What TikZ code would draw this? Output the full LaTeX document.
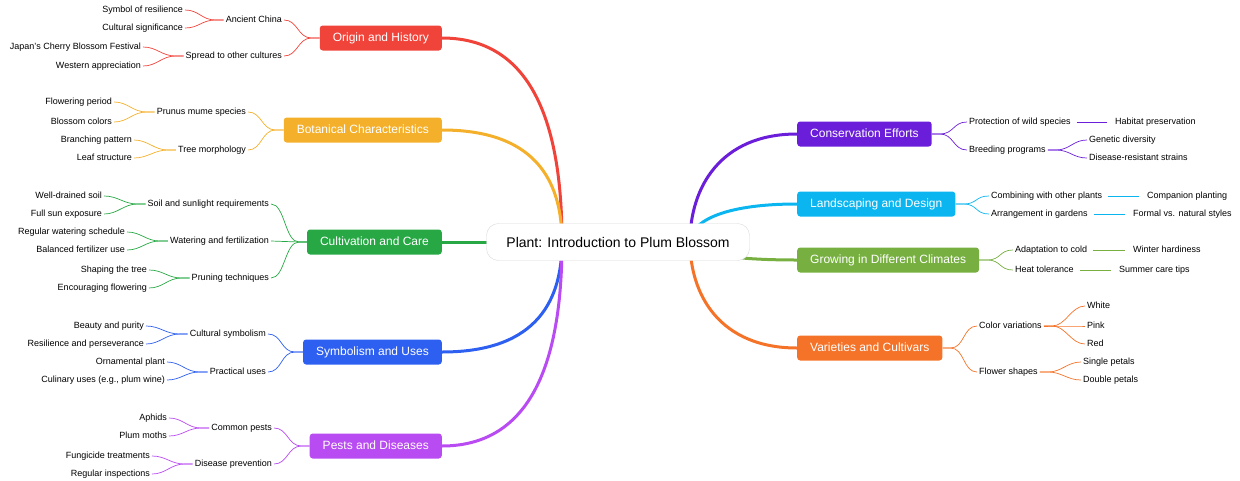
\documentclass[tikz,border=0pt]{standalone}
\usepackage{fontspec}
\setmainfont{Liberation Sans}
\usetikzlibrary{backgrounds}
\definecolor{cRed}{HTML}{F0433A}
\definecolor{cOrg}{HTML}{F4B02A}
\definecolor{cGrn}{HTML}{27A845}
\definecolor{cBlu}{HTML}{2D5FF0}
\definecolor{cPur}{HTML}{B94BF2}
\definecolor{cVio}{HTML}{6A1ED9}
\definecolor{cCya}{HTML}{0BB5F0}
\definecolor{cOli}{HTML}{77B041}
\definecolor{cVar}{HTML}{F57328}
\begin{document}
\begin{tikzpicture}
[x=1pt,y=-1pt,
  mainnode/.style={rounded corners=3pt,minimum height=25pt,inner xsep=13pt,text=white,text height=9pt,text depth=2.5pt,font=\fontsize{12}{14}\selectfont},
  subnode/.style={inner sep=2pt,text height=6.5pt,text depth=1.5pt,font=\fontsize{9}{11}\selectfont},
  thickline/.style={line width=3pt},
  thinline/.style={line width=0.7pt}]
\useasboundingbox (0,0) rectangle (1240,480);
%% center
\node (root) at (618,242) [draw=black!15,fill=white,rounded corners=12pt,minimum width=263pt,minimum height=37pt,font=\fontsize{14}{16}\selectfont] {Plant: Introduction to Plum Blossom};
%% left main nodes
\foreach \name/\y/\col/\txt in {orig/38/cRed/Origin and History, bota/130/cOrg/Botanical Characteristics,
  cult/242/cGrn/Cultivation and Care, symb/352/cBlu/Symbolism and Uses, pest/446/cPur/Pests and Diseases}
{
  \node (\name) at (442,\y) [mainnode,anchor=east,fill=\col] {\txt};
  \begin{pgfonlayer}{background}
  \draw[thickline,\col] (\name.east) .. controls (540,\y) and (562,{(\y+242)/2}) .. (562,242);
  \end{pgfonlayer}
}
%% right main nodes
\foreach \name/\y/\col/\txt in {cons/134/cVio/Conservation Efforts, land/204/cCya/Landscaping and Design,
  grow/260/cOli/Growing in Different Climates, vari/348/cVar/Varieties and Cultivars}
{
  \node (\name) at (797,\y) [mainnode,anchor=west,fill=\col] {\txt};
  \begin{pgfonlayer}{background}
  \draw[thickline,\col] (\name.west) .. controls (720,\y) and (690,{(\y+242)/2}) .. (690,242);
  \end{pgfonlayer}
}
%% left subnodes
\foreach \name/\x/\y/\up/\col/\txt in {o1/284/20/orig/cRed/Ancient China, o2/284/56/orig/cRed/Spread to other cultures,
  o11/185/10/o1/cRed/Symbol of resilience, o12/185/28/o1/cRed/Cultural significance,
  o21/143/47/o2/cRed/Japan's Cherry Blossom Festival, o22/143/66/o2/cRed/Western appreciation,
  b1/248/112/bota/cOrg/Prunus mume species, b2/248/150/bota/cOrg/Tree morphology,
  b11/114/102/b1/cOrg/Flowering period, b12/114/122/b1/cOrg/Blossom colors,
  b21/134/140/b2/cOrg/Branching pattern, b22/134/158/b2/cOrg/Leaf structure,
  c1/271/204/cult/cGrn/Soil and sunlight requirements, c2/271/241/cult/cGrn/Watering and fertilization,
  c3/271/278/cult/cGrn/Pruning techniques,
  c11/104/196/c1/cGrn/Well-drained soil, c12/104/214/c1/cGrn/Full sun exposure,
  c21/127/232/c2/cGrn/Regular watering schedule, c22/127/250/c2/cGrn/Balanced fertilizer use,
  c31/149/270/c3/cGrn/Shaping the tree, c32/149/288/c3/cGrn/Encouraging flowering,
  s1/268/334/symb/cBlu/Cultural symbolism, s2/268/372/symb/cBlu/Practical uses,
  s11/146/326/s1/cBlu/Beauty and purity, s12/146/344/s1/cBlu/Resilience and perseverance,
  s21/167/362/s2/cBlu/Ornamental plant, s22/167/380/s2/cBlu/{Culinary uses (e.g., plum wine)},
  p1/274/428/pest/cPur/Common pests, p2/274/464/pest/cPur/Disease prevention,
  p11/169/418/p1/cPur/Aphids, p12/169/436/p1/cPur/Plum moths,
  p21/152/456/p2/cPur/Fungicide treatments, p22/152/474/p2/cPur/Regular inspections}
{
  \node (\name) at (\x,\y) [subnode,anchor=east] {\txt};
  \draw[thinline,\col] (\up.west) -- ++(-8,0) .. controls +(-14,0) and +(14,0) .. (\name.east);
}
%% right subnodes
\foreach \name/\x/\y/\up/\col/\txt in {k1/967/122/cons/cVio/Protection of wild species, k2/967/150/cons/cVio/Breeding programs,
  k21/1087/140/k2/cVio/Genetic diversity, k22/1087/158/k2/cVio/Disease-resistant strains,
  l1/989/196/land/cCya/Combining with other plants, l2/989/214/land/cCya/Arrangement in gardens,
  g1/1013/250/grow/cOli/Adaptation to cold, g2/1013/270/grow/cOli/Heat tolerance,
  v1/977/326/vari/cVar/Color variations, v2/977/372/vari/cVar/Flower shapes,
  v11/1085/306/v1/cVar/White, v12/1085/326/v1/cVar/Pink, v13/1085/344/v1/cVar/Red,
  v21/1081/362/v2/cVar/Single petals, v22/1081/380/v2/cVar/Double petals}
{
  \node (\name) at (\x,\y) [subnode,anchor=west] {\txt};
  \draw[thinline,\col] (\up.east) -- ++(8,0) .. controls +(14,0) and +(-14,0) .. (\name.west);
}
%% single leaves
\foreach \name/\x/\y/\up/\col/\txt in {k11/1113/122/k1/cVio/Habitat preservation,
  l11/1145/196/l1/cCya/Companion planting, l21/1131/214/l2/cCya/Formal vs. natural styles,
  g11/1131/250/g1/cOli/Winter hardiness, g21/1117/270/g2/cOli/Summer care tips}
{
  \node (\name) at (\x,\y) [subnode,anchor=west] {\txt};
  \draw[thinline,\col,shorten <=4pt,shorten >=6pt] (\up.east) -- (\name.west);
}
\end{tikzpicture}
\end{document}
